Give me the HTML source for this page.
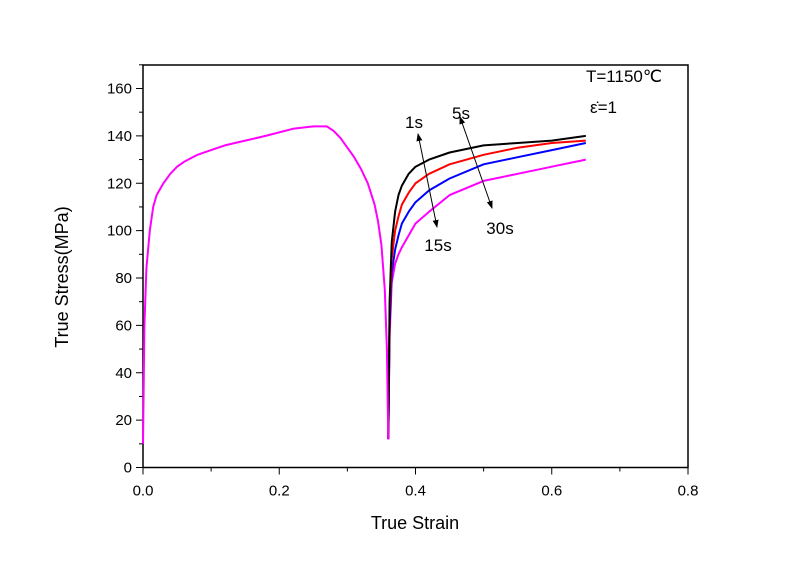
<!DOCTYPE html>
<html><head><meta charset="utf-8"><style>
body{margin:0;background:#fff;}
svg{display:block;font-family:"Liberation Sans",Arial,sans-serif;}
</style></head><body>
<svg id="chart" width="800" height="561"></svg>
<script>
const yTicks=[0,20,40,60,80,100,120,140,160];
const xTicks=["0.0","0.2","0.4","0.6","0.8"];
const firstStrain=[0,0.002,0.005,0.01,0.015,0.02,0.03,0.04,0.05,0.06,0.08,0.1,0.12,0.15,0.18,0.22,0.25,0.27,0.28,0.29,0.3,0.31,0.32,0.33,0.34,0.345,0.35,0.355,0.358,0.36];
const firstStress=[10,60,84,100,110,115,120,124,127,129,132,134,136,138,140,143,144,144,142,139,135,131,126,120,111,104,94,75,50,12];
const reStrain=[0.36,0.362,0.365,0.37,0.375,0.38,0.39,0.4,0.42,0.45,0.5,0.55,0.6,0.65];
const s1=[12,70,95,108,115,119,124,127,130,133,136,137,138,140];
const s5=[12,65,88,100,106,111,116,120,124,128,132,135,137,138];
const s15=[12,60,82,92,98,103,108,112,117,122,128,131,134,137];
const s30=[12,55,78,86,90,93,98,103,108,115,121,124,127,130];
const series=[["curve-1s",s1,"#000"],["curve-5s",s5,"#f00"],["curve-15s",s15,"#00f"],["curve-30s",s30,"#f0f"]];
const NS="http://www.w3.org/2000/svg";
const svg=document.getElementById('chart');
const X0=143,X1=688,Y0=467.5,Y1=65;
const xs=v=>X0+v/0.8*(X1-X0);
const ys=v=>Y0-v*(467.5-88.5)/160;
function mk(t,a,p){const e=document.createElementNS(NS,t);for(const k in a)e.setAttribute(k,a[k]);(p||svg).appendChild(e);return e;}
const defs=mk('defs',{});
const m=mk('marker',{id:'ah',markerWidth:8,markerHeight:8,refX:7,refY:4,orient:'auto-start-reverse',markerUnits:'userSpaceOnUse'},defs);
mk('path',{d:'M0,1 L8,4 L0,7 Z',fill:'#000'},m);
const fr=mk('rect',{x:X0,y:Y1,width:X1-X0,height:Y0-Y1,fill:'none',stroke:'#000','stroke-width':1.5});

for(let v=0;v<=170;v+=10){const y=ys(v);const major=v%20===0;
 mk('line',{x1:X0-(major?7:4),x2:X0,y1:y,y2:y,stroke:'#000','stroke-width':1});}
yTicks.forEach(v=>{const t=mk('text',{x:X0-11,y:ys(v)+5,'text-anchor':'end','font-size':15});t.textContent=v;
 });
for(let i=0;i<=8;i++){const x=xs(i*0.1);const major=i%2===0;
 mk('line',{x1:x,x2:x,y1:Y0,y2:Y0+(major?7:4),stroke:'#000','stroke-width':1});}
xTicks.forEach(v=>{const t=mk('text',{x:xs(parseFloat(v)),y:Y0+28,'text-anchor':'middle','font-size':15});t.textContent=v;
 });
let t=mk('text',{x:415,y:529,'text-anchor':'middle','font-size':18});t.textContent='True Strain';

t=mk('text',{x:0,y:0,'text-anchor':'middle','font-size':18,transform:'translate(68,277) rotate(-90)'});t.textContent='True Stress(MPa)';

function line(xsArr,ysArr,col,name){const d=xsArr.map((v,i)=>(i?'L':'M')+xs(v).toFixed(1)+','+ys(ysArr[i]).toFixed(1)).join(' ');
 const p=mk('path',{d:d,fill:'none',stroke:col,'stroke-width':2,'stroke-linejoin':'round'});
 }
series.slice().reverse().forEach(s=>line(reStrain,s[1],s[2],s[0]));
line(firstStrain,firstStress,'#f0f','curve-initial-loading');
let a=mk('line',{x1:418,y1:134,x2:437,y2:227,stroke:'#000','stroke-width':1,'marker-start':'url(#ah)','marker-end':'url(#ah)'});

a=mk('line',{x1:460,y1:117,x2:492,y2:208,stroke:'#000','stroke-width':1,'marker-start':'url(#ah)','marker-end':'url(#ah)'});

[["1s",414,128,"label-1s"],["5s",461,119,"label-5s"],["15s",438,251,"label-15s"],["30s",500,234,"label-30s"]].forEach(l=>{
 const e=mk('text',{x:l[1],y:l[2],'text-anchor':'middle','font-size':17});e.textContent=l[0];
 });
t=mk('text',{x:586,y:82,'font-size':17});t.textContent='T=1150℃';

t=mk('text',{x:590,y:113,'font-size':17});t.textContent='ε̇=1';

</script>
</body></html>
